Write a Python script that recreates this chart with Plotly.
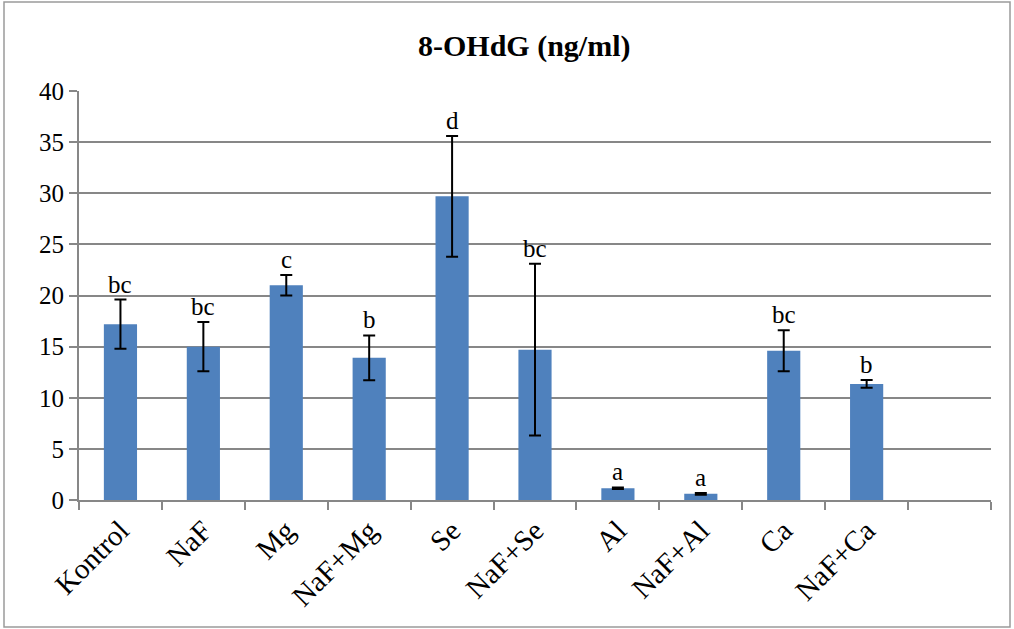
import plotly.graph_objects as go

categories = ["Kontrol", "NaF", "Mg", "NaF+Mg", "Se", "NaF+Se", "Al", "NaF+Al", "Ca", "NaF+Ca"]
means = [17.2, 15.0, 21.0, 13.9, 29.7, 14.7, 1.15, 0.6, 14.6, 11.35]
errors = [2.4, 2.4, 1.0, 2.2, 5.9, 8.4, 0.08, 0.08, 2.0, 0.38]
letters = ["bc", "bc", "c", "b", "d", "bc", "a", "a", "bc", "b"]
y_ticks = [0, 5, 10, 15, 20, 25, 30, 35, 40]

W, H = 1014, 629
ml, mr, mt, mb = 79, 23, 91, 129
pw, ph = W - ml - mr, H - mt - mb

serif = "'Liberation Serif', 'Times New Roman', serif"

fig = go.Figure()
fig.add_trace(go.Bar(
    x=categories, y=means,
    marker=dict(color="#4F81BD", line=dict(width=0)),
    width=0.4,
    error_y=dict(type="data", array=errors, visible=True, color="black", thickness=2, width=6),
    showlegend=False,
))

annotations = []
for c, m, e, l in zip(categories, means, errors, letters):
    annotations.append(dict(x=c, y=m + e, text=l, showarrow=False, yanchor="bottom",
                            yshift=0, font=dict(family=serif, size=25, color="black")))

fig.update_layout(
    width=W, height=H,
    margin=dict(l=ml, r=mr, t=mt, b=mb),
    paper_bgcolor="white", plot_bgcolor="white",
    font=dict(family=serif, color="black"),
    title=dict(text="8-OHdG (ng/ml)", x=0.517, xanchor="center", y=0.928, yanchor="middle",
               font=dict(family="Liberation Serif", size=30, color="black", weight=700)),
    xaxis=dict(
        type="category", categoryorder="array", categoryarray=categories + [" "],
        range=[-0.5, 10.5], tickson="boundaries", ticks="outside", ticklen=8,
        tickcolor="#878787", tickwidth=2, showline=True, linecolor="#878787", linewidth=2,
        showgrid=False, tickangle=-45, tickfont=dict(family=serif, size=29, color="black"),
    ),
    yaxis=dict(
        range=[0, 40], tickvals=y_ticks, ticks="outside", ticklen=8, tickcolor="#878787",
        tickwidth=2, showline=True, linecolor="#878787", linewidth=2,
        showgrid=True, gridcolor="#878787", gridwidth=2, zeroline=False,
        tickfont=dict(family=serif, size=25, color="black"),
    ),
    annotations=annotations,
    shapes=[dict(type="rect", xref="paper", yref="paper",
                 x0=(4 - ml) / pw, x1=(1010 - ml) / pw,
                 y0=(H - mb - 627) / ph, y1=(H - mb - 2) / ph,
                 line=dict(color="#9a9a9a", width=1.5), fillcolor="rgba(0,0,0,0)", layer="below")],
)

fig.write_html("out.html", config={"displayModeBar": False},
               post_script="document.body.style.margin='0';document.body.style.overflow='hidden';")
